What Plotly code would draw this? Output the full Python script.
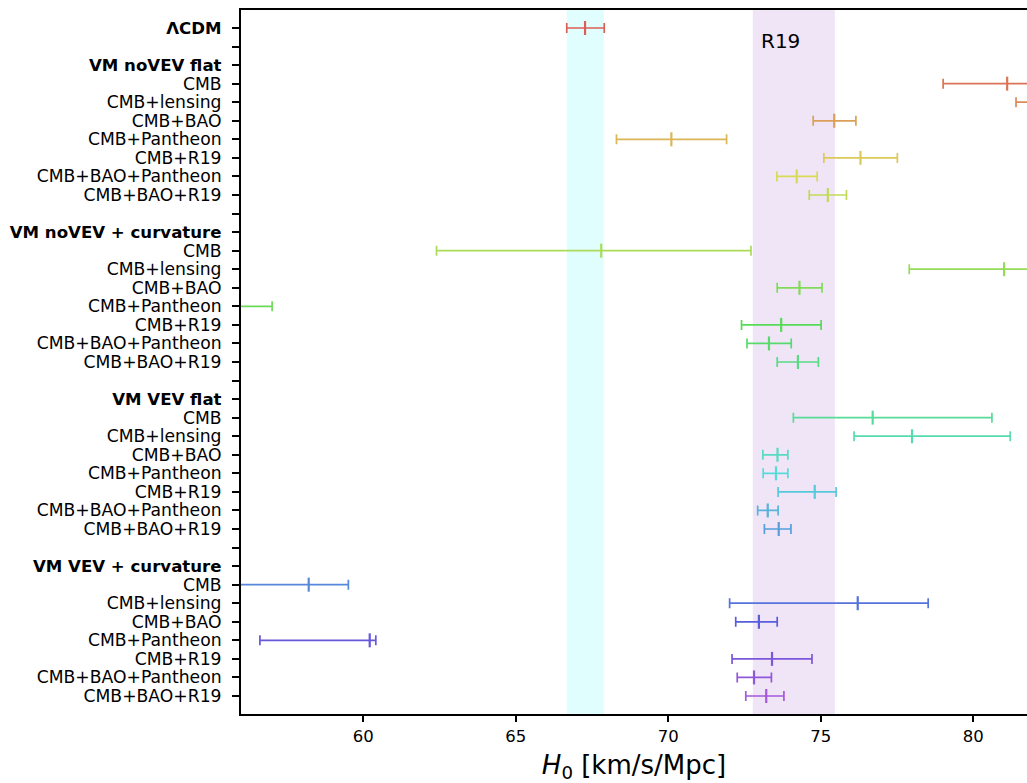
import colorsys
import plotly.graph_objects as go

# ---------------- data ----------------
row_labels = [
    "ΛCDM", "",
    "VM noVEV flat", "CMB", "CMB+lensing", "CMB+BAO", "CMB+Pantheon", "CMB+R19",
    "CMB+BAO+Pantheon", "CMB+BAO+R19", "",
    "VM noVEV + curvature", "CMB", "CMB+lensing", "CMB+BAO", "CMB+Pantheon", "CMB+R19",
    "CMB+BAO+Pantheon", "CMB+BAO+R19", "",
    "VM VEV flat", "CMB", "CMB+lensing", "CMB+BAO", "CMB+Pantheon", "CMB+R19",
    "CMB+BAO+Pantheon", "CMB+BAO+R19", "",
    "VM VEV + curvature", "CMB", "CMB+lensing", "CMB+BAO", "CMB+Pantheon", "CMB+R19",
    "CMB+BAO+Pantheon", "CMB+BAO+R19",
]
header_rows = [0, 2, 11, 20, 29]

# row index of each measurement
series_rows = [0,
               3, 4, 5, 6, 7, 8, 9,
               12, 13, 14, 15, 16, 17, 18,
               21, 22, 23, 24, 25, 26, 27,
               30, 31, 32, 33, 34, 35, 36]
h0_center = [67.27,
             81.11, 83.50, 75.44, 70.10, 76.30, 74.21, 75.23,
             67.80, 81.01, 74.30, 52.00, 73.70, 73.30, 74.25,
             76.70, 77.99, 73.58, 73.53, 74.80, 73.26, 73.62,
             58.21, 76.21, 72.97, 60.21, 73.40, 72.81, 73.21]
h0_lower = [66.67,
            79.01, 81.40, 74.75, 68.30, 75.10, 73.56, 74.62,
            62.40, 77.90, 73.57, 47.00, 72.40, 72.58, 73.57,
            74.10, 76.09, 73.10, 73.11, 73.60, 72.93, 73.15,
            54.50, 72.01, 72.21, 56.61, 72.09, 72.26, 72.54]
h0_upper = [67.90,
            83.21, 85.60, 76.15, 71.91, 77.51, 74.88, 75.84,
            72.71, 84.10, 75.04, 57.01, 75.01, 74.03, 74.92,
            80.61, 81.21, 73.92, 73.92, 75.50, 73.60, 74.02,
            59.51, 78.52, 73.57, 60.41, 74.71, 73.38, 73.79]

planck_band = [66.67, 67.88]
r19_band = [72.77, 75.46]
r19_label = "R19"

x_ticks = [60, 65, 70, 75, 80]
x_range = [55.99, 81.76]

# ---------------- colours (hls palette) ----------------
n_pal = 37
colors = []
for j in range(len(series_rows)):
    h = (0.01 + j / n_pal) % 1.0
    r, g, b = colorsys.hls_to_rgb(h, 0.6, 0.65)
    colors.append("rgb(%d,%d,%d)" % (round(r * 255), round(g * 255), round(b * 255)))

# ---------------- figure ----------------
fig = go.Figure()

for j, row in enumerate(series_rows):
    c = h0_center[j]
    fig.add_trace(go.Scatter(
        x=[c], y=[row], mode="markers",
        marker=dict(symbol="line-ns", size=10, color=colors[j],
                    line=dict(color=colors[j], width=2.2)),
        error_x=dict(type="data", symmetric=False,
                     array=[h0_upper[j] - c], arrayminus=[c - h0_lower[j]],
                     color=colors[j], thickness=1.7, width=5),
        showlegend=False, hoverinfo="skip", cliponaxis=True,
    ))

fig.add_vrect(x0=planck_band[0], x1=planck_band[1], fillcolor="#e0fefe",
              line_width=0, layer="below")
fig.add_vrect(x0=r19_band[0], x1=r19_band[1], fillcolor="#f0e4f7",
              line_width=0, layer="below")

fig.add_annotation(x=r19_band[0] + 0.2, y=0.7, xref="x", yref="y",
                   text=r19_label, showarrow=False, xanchor="left", yanchor="middle",
                   font=dict(family="DejaVu Sans", size=20, color="black"))

ticktext = [("<b><span style='font-size:16.6px'>%s</span></b>" % t) if i in header_rows else t
            for i, t in enumerate(row_labels)]

fig.update_layout(
    width=1027, height=783,
    margin=dict(l=241, r=0, t=10, b=69),
    plot_bgcolor="white", paper_bgcolor="white",
    font=dict(family="DejaVu Sans", size=16, color="black"),
    xaxis=dict(
        range=x_range, tickvals=x_ticks, ticktext=[str(v) for v in x_ticks],
        showgrid=False, zeroline=False,
        showline=True, linecolor="black", linewidth=2, mirror=True,
        ticks="outside", ticklen=6, tickwidth=1.5, tickcolor="black",
        tickfont=dict(size=16.5),
        title=dict(text="<i>H</i><sub>0</sub> [km/s/Mpc]",
                   font=dict(size=26), standoff=14),
    ),
    yaxis=dict(
        range=[36.97, -0.97],
        tickvals=list(range(len(row_labels))), ticktext=ticktext,
        showgrid=False, zeroline=False,
        showline=True, linecolor="black", linewidth=2, mirror=False,
        ticks="outside", ticklen=7, tickwidth=1.5, tickcolor="black",
        tickfont=dict(size=17.2), ticklabelstandoff=7,
    ),
)

fig.write_html("out.html", config={"displayModeBar": False},
               post_script="document.body.style.margin='0';document.body.style.overflow='hidden';")
